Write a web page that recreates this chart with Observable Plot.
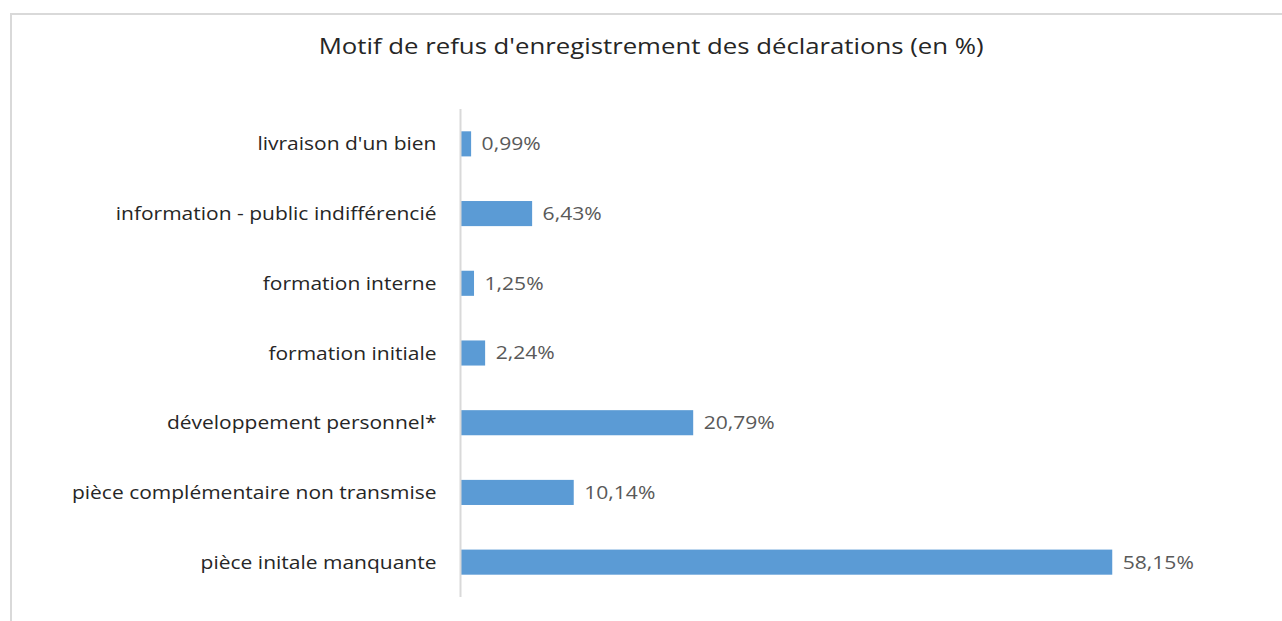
<!DOCTYPE html>
<html><head><meta charset="utf-8">
<script src="https://cdn.jsdelivr.net/npm/d3@7"></script>
<script src="https://cdn.jsdelivr.net/npm/@observablehq/plot@0.6"></script>
<style>
html,body{margin:0;padding:0;background:#fff;width:1282px;height:621px;overflow:hidden;}
#frame{position:absolute;left:10px;top:13px;width:1290px;height:640px;border:2px solid #d9d9d9;box-sizing:border-box;}
#title{position:absolute;left:0;top:30px;width:1302px;text-align:center;}
#title span{display:inline-block;font-family:"Open Sans",sans-serif;font-size:22px;color:#262626;transform:scaleX(1.17);transform-origin:center;}
#chart{position:absolute;left:0;top:0;}
</style></head>
<body>
<div id="frame"></div>
<div id="title"><span>Motif de refus d'enregistrement des déclarations (en %)</span></div>
<div id="chart"></div>
<script>
const categories = ["livraison d'un bien","information - public indifférencié","formation interne","formation initiale","développement personnel*","pièce complémentaire non transmise","pièce initale manquante"];
const values = [0.99, 6.43, 1.25, 2.24, 20.79, 10.14, 58.15];
const data = categories.map((c,i)=>({cat:c, v:values[i]}));
const fmt = v => v.toFixed(2).replace(".", ",") + "%";
const chart = Plot.plot({
  width:1282, height:621,
  marginLeft:460, marginRight:149, marginTop:109, marginBottom:24,
  style:{fontFamily:"Open Sans, sans-serif", background:"transparent"},
  x:{domain:[0,60], axis:null},
  y:{domain:categories, paddingInner:0.64, paddingOuter:0.32, round:false, label:null, tickSize:0, tickPadding:24},
  marks:[
    Plot.barX(data,{y:"cat", x:"v", fill:"#5b9bd5"}),
    Plot.ruleX([0],{stroke:"#d9d9d9", strokeWidth:2}),
    Plot.text(data,{y:"cat", x:"v", text:d=>fmt(d.v), dx:10, textAnchor:"start", fill:"#595959", fontSize:18.5}),
    Plot.axisY({tickSize:0, tickPadding:24, fontSize:19, color:"#262626", label:null})
  ]
});
document.getElementById("chart").appendChild(chart);
function stretch(sel, f){
  chart.querySelectorAll(sel).forEach(t=>{
    const w = t.getComputedTextLength();
    t.setAttribute("textLength", (w*f).toFixed(1));
    t.setAttribute("lengthAdjust","spacingAndGlyphs");
  });
}
stretch('[aria-label="y-axis tick label"] text', 1.105);
stretch('[aria-label="text"] text', 1.14);
</script>
</body></html>
